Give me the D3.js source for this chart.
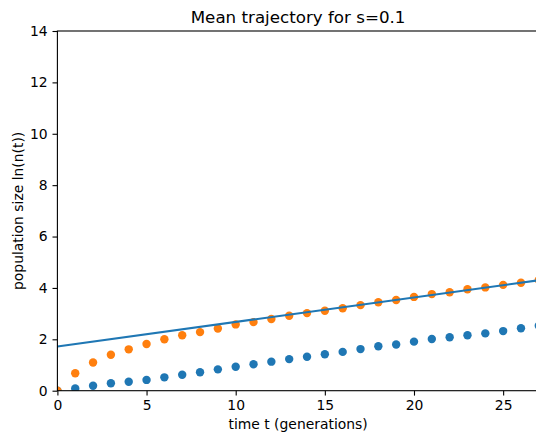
<!DOCTYPE html>
<html>
<head>
<meta charset="utf-8">
<script src="https://cdnjs.cloudflare.com/ajax/libs/d3/7.8.5/d3.min.js"></script>
<style>
  body { margin: 0; background: #fff; }
  svg { display: block; font-family: 'DejaVu Sans', sans-serif; }
</style>
</head>
<body>
<div id="root"></div>
<script>
'use strict';

const generations = d3.range(0, 28),
      blueMean   = [0, 0.09, 0.19, 0.29, 0.35, 0.42, 0.52, 0.62, 0.72, 0.83,
                    0.93, 1.03, 1.13, 1.23, 1.32, 1.42, 1.51, 1.62, 1.73, 1.80,
                    1.91, 2.01, 2.08, 2.16, 2.23, 2.32, 2.43, 2.53],
      orangeMean = [0, 0.68, 1.10, 1.40, 1.61, 1.82, 2.00, 2.16, 2.28, 2.42,
                    2.58, 2.67, 2.79, 2.92, 3.02, 3.11, 3.21, 3.33, 3.44, 3.53,
                    3.65, 3.76, 3.83, 3.95, 4.02, 4.12, 4.20, 4.31],
      fitT       = [0, 27],
      fitV       = [1.72, 4.30],
      xTicks     = [0, 5, 10, 15, 20, 25],
      yTicks     = [0, 2, 4, 6, 8, 10, 12, 14];

const Root = document.querySelector('#root');

function draw() {
  const w = 536,
        h = 438,
        left = 57.4,
        right = 538.8,
        top = 31,
        bottom = 390.7,

        svg = d3.select(Root)
                .append('svg')
                .attr('width', w)
                .attr('height', h),

        xScale = d3.scaleLinear()
                   .domain([0, 27])
                   .range([left, right]),

        yScale = d3.scaleLinear()
                   .domain([0, 14])
                   .range([bottom, top]);

  svg.append('defs')
     .append('clipPath')
     .attr('id', 'plot-clip')
     .append('rect')
     .attr('x', left)
     .attr('y', top)
     .attr('width', right - left)
     .attr('height', bottom - top);

  const plot = svg.append('g').attr('clip-path', 'url(#plot-clip)');

  // blue first, orange on top of it, fitted line last
  plot.selectAll('circle.blue')
      .data(generations)
      .enter()
      .append('circle')
      .attr('class', 'blue')
      .attr('cx', (t) => xScale(t))
      .attr('cy', (t) => yScale(blueMean[t]))
      .attr('r', 4.2)
      .attr('fill', '#1f77b4');

  plot.selectAll('circle.orange')
      .data(generations)
      .enter()
      .append('circle')
      .attr('class', 'orange')
      .attr('cx', (t) => xScale(t))
      .attr('cy', (t) => yScale(orangeMean[t]))
      .attr('r', 4.2)
      .attr('fill', '#ff7f0e');

  const line = d3.line()
                 .x((d) => xScale(d[0]))
                 .y((d) => yScale(d[1]));

  plot.append('path')
      .datum(d3.zip(fitT, fitV))
      .attr('d', line)
      .attr('fill', 'none')
      .attr('stroke', '#1f77b4')
      .attr('stroke-width', 2.1);

  const xAxis = d3.axisBottom(xScale)
                  .tickValues(xTicks)
                  .tickSize(4.9)
                  .tickPadding(4.9)
                  .tickSizeOuter(0),
        yAxis = d3.axisLeft(yScale)
                  .tickValues(yTicks)
                  .tickSize(4.9)
                  .tickPadding(4.9)
                  .tickSizeOuter(0);

  const gx = svg.append('g')
                .attr('transform', 'translate(0, ' + bottom + ')')
                .call(xAxis);
  const gy = svg.append('g')
                .attr('transform', 'translate(' + left + ', 0)')
                .call(yAxis);

  [gx, gy].forEach((g) => {
    g.select('.domain').remove();
    g.selectAll('line').attr('stroke', '#000').attr('stroke-width', 1.1);
    g.selectAll('text')
     .attr('fill', '#000')
     .style('font-size', '13.9px')
     .style('font-family', "'DejaVu Sans', sans-serif");
  });

  // spines
  svg.append('rect')
     .attr('x', left)
     .attr('y', top)
     .attr('width', right - left)
     .attr('height', bottom - top)
     .attr('fill', 'none')
     .attr('stroke', '#000')
     .attr('stroke-width', 1.1);

  svg.append('text')
     .attr('x', (left + right) / 2)
     .attr('y', 22.6)
     .attr('text-anchor', 'middle')
     .style('font-size', '16.7px')
     .text('Mean trajectory for s=0.1');

  svg.append('text')
     .attr('x', (left + right) / 2)
     .attr('y', 429)
     .attr('text-anchor', 'middle')
     .style('font-size', '13.9px')
     .text('time t (generations)');

  svg.append('text')
     .attr('transform', 'translate(23, ' + ((top + bottom) / 2) + ') rotate(-90)')
     .attr('text-anchor', 'middle')
     .style('font-size', '13.9px')
     .text('population size ln(n(t))');
}

draw();
</script>
</body>
</html>
